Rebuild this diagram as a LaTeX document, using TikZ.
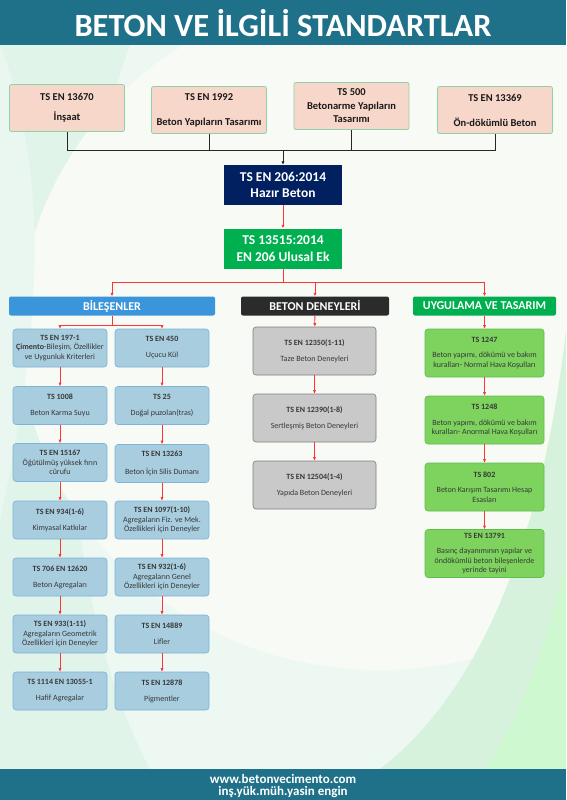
\documentclass[tikz,border=0pt]{standalone}
\usepackage{fontspec}
\setmainfont{Carlito}
\usetikzlibrary{arrows.meta}

\definecolor{bandteal}{HTML}{1F7189}
\definecolor{bgmint}{HTML}{E0F4EA}
\definecolor{bglight}{HTML}{ECF8F1}
\definecolor{bgpale}{HTML}{F8FBF5}
\definecolor{bggreen}{HTML}{D6F1DC}
\definecolor{topfill}{HTML}{F8D7CB}
\definecolor{topline}{HTML}{8FD2A8}
\definecolor{navyfill}{HTML}{002060}
\definecolor{ekgreen}{HTML}{00B050}
\definecolor{skyhead}{HTML}{3A95DB}
\definecolor{darkhead}{HTML}{2B2B2B}
\definecolor{bluefill}{HTML}{A8CDDF}
\definecolor{blueline}{HTML}{7DB3D8}
\definecolor{greyfill}{HTML}{C9C9C9}
\definecolor{greyline}{HTML}{7F7F7F}
\definecolor{limefill}{HTML}{7DD35E}
\definecolor{limeline}{HTML}{5DBE4A}
\definecolor{linkred}{HTML}{FF3535}
\definecolor{bodytext}{HTML}{383838}

\begin{document}
\begin{tikzpicture}[
  x=1pt,
  y=-1pt,
  >={Latex[length=3.5pt,width=3.2pt]},
  font=\fontsize{8}{9.5}\selectfont,
  topbox/.style={draw=topline, fill=topfill, line width=0.8pt,
    rounded corners=2pt, minimum width=115pt, minimum height=47pt,
    align=center, text=black!90, font=\fontsize{10.5}{13.5}\selectfont\bfseries},
  mainbox/.style={minimum width=118pt, minimum height=40pt, align=center,
    text=white, font=\fontsize{13.5}{16.5}\selectfont\bfseries},
  headbox/.style={rounded corners=2pt, minimum height=19pt, text=white,
    font=\fontsize{12}{14}\selectfont\bfseries},
  bluebox/.style={draw=blueline, fill=bluefill, line width=0.6pt,
    rounded corners=3pt, minimum width=94pt, minimum height=38pt,
    align=center, text=bodytext, inner sep=1pt},
  greybox/.style={draw=greyline, fill=greyfill, line width=0.6pt,
    rounded corners=3pt, minimum width=123pt, minimum height=48pt,
    align=center, text=bodytext},
  limebox/.style={draw=limeline, fill=limefill, line width=0.6pt,
    rounded corners=3pt, minimum width=119pt, minimum height=48pt,
    align=center, text=bodytext, inner sep=1pt},
  blackline/.style={draw=black!85, line width=0.8pt},
  redline/.style={draw=linkred, line width=0.8pt}
]

  % Page size and coloured bands.
  \useasboundingbox (0,0) rectangle (566,800);
  \fill[bgmint] (0,45) rectangle (566,769);
  \begin{scope}
    \clip (0,45) rectangle (566,769);
    \fill[bglight] (130,45) .. controls (40,300) and (60,600)
      .. (150,769) -- (566,769) -- (566,45) -- cycle;
    \fill[bgpale] (380,330) ellipse[x radius=360, y radius=340];
    \fill[bggreen] (566,330) .. controls (540,560) and (470,700)
      .. (380,769) -- (566,769) -- cycle;
    \fill[bggreen!80!green!60!white] (566,560) .. controls (545,650)
      and (520,720) .. (485,769) -- (566,769) -- cycle;
    \fill[bgmint!70!white] (0,45) .. controls (60,200) and (30,380)
      .. (0,520) -- cycle;
  \end{scope}
  \fill[bandteal] (0,0) rectangle (566,45);
  \fill[bandteal] (0,769) rectangle (566,800);

  % Title and footer.
  \node[text=white, font=\fontsize{32.4}{34}\selectfont\bfseries]
    (ttl) at (283,23) {BETON VE İLGİLİ STANDARTLAR};
  \node[text=white, font=\fontsize{13}{14}\selectfont\bfseries]
    (web) at (283,778.5) {www.betonvecimento.com};
  \node[text=white, font=\fontsize{13}{14}\selectfont\bfseries]
    (sig) at (283,792.5) {inş.yük.müh.yasin engin};

  % Design standards on top.
  \node[topbox] (t1) at (67,108)  {TS EN 13670\\[6.5pt]İnşaat};
  \node[topbox] (t2) at (209,110) {TS EN 1992\\[11.5pt]Beton Yapıların Tasarımı};
  \node[topbox] (t3) at (351.5,106) {TS 500\\Betonarme Yapıların\\Tasarımı};
  \node[topbox] (t4) at (495,110) {TS EN 13369\\[11.5pt]Ön-dökümlü Beton};

  % Ready mixed concrete and national annex.
  \node[mainbox, fill=navyfill] (hb206) at (283,185)
    {TS EN 206:2014\\Hazır Beton};
  \node[mainbox, fill=ekgreen] (ek) at (283,248.5)
    {TS 13515:2014\\EN 206 Ulusal Ek};

  % Group headers.
  \node[headbox, fill=skyhead, minimum width=206pt] (hbil) at (112,306)
    {BİLEŞENLER};
  \node[headbox, fill=darkhead, minimum width=148pt] (hden) at (315,306)
    {BETON DENEYLERİ};
  \node[headbox, fill=ekgreen, minimum width=143pt] (huyg) at (484.5,306)
    {UYGULAMA VE TASARIM};

  % Components, left column.
  \node[bluebox] (b1) at (60,348)
    {\textbf{TS EN 197-1}\\\textbf{Çimento}-Bileşim, Özellikler\\ve Uygunluk Kriterleri};
  \node[bluebox] (b2) at (60,405.5) {\textbf{TS 1008}\\[6.5pt]Beton Karma Suyu};
  \node[bluebox] (b3) at (60,462.5)
    {\textbf{TS EN 15167}\\Öğütülmüş yüksek fırın\\cürufu};
  \node[bluebox] (b4) at (60,520) {\textbf{TS EN 934(1-6)}\\[6.5pt]Kimyasal Katkılar};
  \node[bluebox] (b5) at (60,577) {\textbf{TS 706 EN 12620}\\[6.5pt]Beton Agregaları};
  \node[bluebox] (b6) at (60,634)
    {\textbf{TS EN 933(1-11)}\\Agregaların Geometrik\\Özellikleri için Deneyler};
  \node[bluebox] (b7) at (60,691) {\textbf{TS 1114 EN 13055-1}\\[6.5pt]Hafif Agregalar};

  % Components, right column.
  \node[bluebox] (c1) at (162,348) {\textbf{TS EN 450}\\[6.5pt]Uçucu Kül};
  \node[bluebox] (c2) at (162,405.5) {\textbf{TS 25}\\[6.5pt]Doğal puzolan(tras)};
  \node[bluebox] (c3) at (162,463.5) {\textbf{TS EN 13263}\\[8pt]Beton İçin Silis Dumanı};
  \node[bluebox] (c4) at (162,520)
    {\textbf{TS EN 1097(1-10)}\\Agregaların Fiz. ve Mek.\\Özellikleri için Deneyler};
  \node[bluebox] (c5) at (162,577)
    {\textbf{TS EN 932(1-6)}\\Agregaların Genel\\Özellikleri için Deneyler};
  \node[bluebox] (c6) at (162,634) {\textbf{TS EN 14889}\\[6.5pt]Lifler};
  \node[bluebox] (c7) at (162,691) {\textbf{TS EN 12878}\\[6.5pt]Pigmentler};

  % Concrete tests.
  \node[greybox] (d1) at (314.5,351) {\textbf{TS EN 12350(1-11)}\\[6.5pt]Taze Beton Deneyleri};
  \node[greybox] (d2) at (314.5,418) {\textbf{TS EN 12390(1-8)}\\[6.5pt]Sertleşmiş Beton Deneyleri};
  \node[greybox] (d3) at (314.5,485) {\textbf{TS EN 12504(1-4)}\\[6.5pt]Yapıda Beton Deneyleri};

  % Application and design.
  \node[limebox] (e1) at (484.5,353)
    {\textbf{TS 1247}\\[6pt]Beton yapımı, dökümü ve bakım\\kuralları- Normal Hava Koşulları};
  \node[limebox] (e2) at (484.5,420)
    {\textbf{TS 1248}\\[6pt]Beton yapımı, dökümü ve bakım\\kuralları- Anormal Hava Koşulları};
  \node[limebox] (e3) at (484.5,487)
    {\textbf{TS 802}\\[6pt]Beton Karışım Tasarımı Hesap\\Esasları};
  \node[limebox] (e4) at (484.5,553.5)
    {\textbf{TS EN 13791}\\[6pt]Basınç dayanımının yapılar ve\\öndökümlü beton bileşenlerde\\yerinde tayini};

  % Black collector from the design standards.
  \coordinate (bus) at (283,150);
  \foreach \n in {t1,t2,t3,t4}
    \draw[blackline] (\n.south) |- (bus);
  \draw[blackline, ->] (bus) -- (hb206.north);

  % Red links down the tree.
  \draw[redline, ->] (hb206) -- (ek);
  \coordinate (split) at (283,282);
  \draw[redline] (ek.south) -- (split);
  \foreach \h in {hbil,hden,huyg}
    \draw[redline, ->] (split) -| (\h.north);

  \coordinate (bsplit) at (112,325);
  \draw[redline] (hbil.south) -- (bsplit);
  \draw[redline, ->] (bsplit) -| (b1.north);
  \draw[redline, ->] (bsplit) -| (c1.north);
  \draw[redline, ->] (hden) -- (d1);
  \draw[redline, ->] (huyg) -- (e1);

  \foreach \a/\b in {b1/b2,b2/b3,b3/b4,b4/b5,b5/b6,b6/b7,
                     c1/c2,c2/c3,c3/c4,c4/c5,c5/c6,c6/c7,
                     d1/d2,d2/d3,e1/e2,e2/e3,e3/e4}
    \draw[redline, ->] (\a) -- (\b);

\end{tikzpicture}
\end{document}
